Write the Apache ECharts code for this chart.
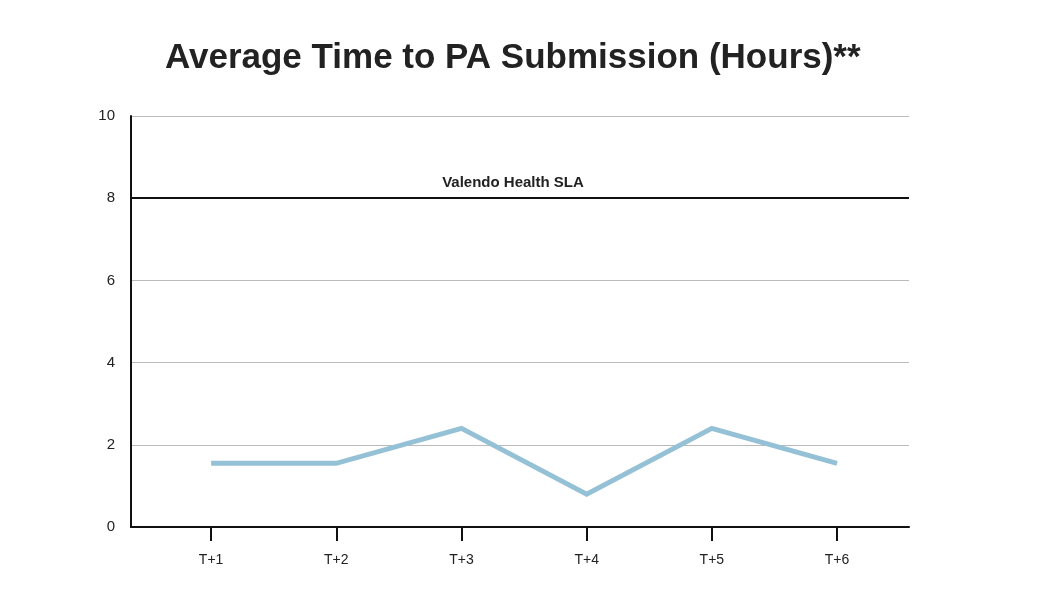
<!DOCTYPE html>
<html><head><meta charset="utf-8">
<script src="https://cdn.jsdelivr.net/npm/echarts@6/dist/echarts.min.js"></script>
<style>html,body{margin:0;padding:0;background:#fff}#c{width:1048px;height:608px}</style>
</head><body><div id="c"></div>
<script>
const categories = ['T+1','T+2','T+3','T+4','T+5','T+6'];
const values = [1.55, 1.55, 2.4, 0.8, 2.4, 1.55];
const yTicks = [0, 2, 4, 6, 8, 10];
const slaValue = 8;
const slaLabel = 'Valendo Health SLA';
const titleText = 'Average Time to PA Submission (Hours)**';

const positions = categories.map((c, i) => i + 1);
const chart = echarts.init(document.getElementById('c'));
chart.setOption({
  backgroundColor: '#fff',
  animation: false,
  title: {
    text: titleText, left: 160, top: 36,
    textStyle: { fontFamily: 'Liberation Sans', fontWeight: 'bold', fontSize: 35, color: '#222' }
  },
  grid: { left: 131, right: 139, top: 116, bottom: 81 },
  xAxis: {
    type: 'value', min: 0.36, max: 6.575,
    axisLine: { show: true, lineStyle: { color: '#111', width: 2 } },
    axisTick: { show: true, customValues: positions, length: 14, lineStyle: { color: '#111', width: 2 } },
    axisLabel: { customValues: positions, formatter: v => categories[Math.round(v) - 1] || '',
      margin: 26, fontFamily: 'Liberation Sans', fontSize: 14, color: '#222' },
    splitLine: { show: false }
  },
  yAxis: {
    type: 'value', min: 0, max: 10, interval: 2,
    axisLine: { show: true, lineStyle: { color: '#111', width: 2 } },
    axisTick: { show: false },
    axisLabel: { margin: 16, fontFamily: 'Liberation Sans', fontSize: 15, color: '#222',
      formatter: v => yTicks.includes(v) ? String(v) : '' },
    splitLine: { show: true, lineStyle: { color: '#bbb', width: 1 } }
  },
  series: [{
    type: 'line',
    data: positions.map((p, i) => [p, values[i]]),
    symbol: 'none',
    lineStyle: { color: '#95c1d6', width: 5, cap: 'butt', join: 'miter' },
    markLine: {
      silent: true, symbol: 'none',
      lineStyle: { color: '#111', width: 2, type: 'solid' },
      label: { show: true, position: 'middle', formatter: slaLabel, fontFamily: 'Liberation Sans',
        fontWeight: 'bold', fontSize: 15, color: '#222', distance: 8, offset: [-7, 0] },
      data: [{ yAxis: slaValue }]
    }
  }]
});
</script></body></html>
